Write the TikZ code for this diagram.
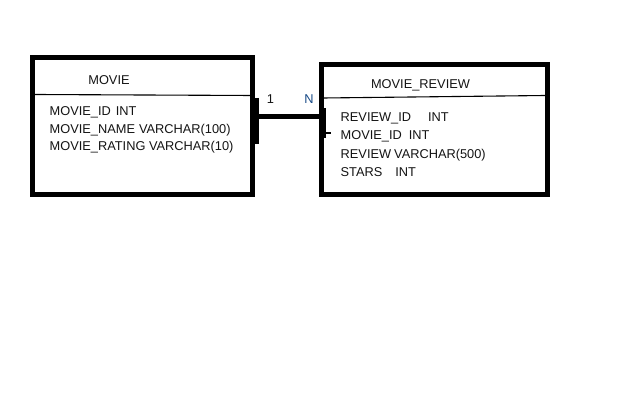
\documentclass[tikz,border=0pt]{standalone}
\usepackage{fontspec}
\setmainfont{Liberation Sans}
\usepackage{tikz}
\usetikzlibrary{positioning,calc}

\begin{document}
\begin{tikzpicture}[
  x=1pt, y=-1pt,
  lbl/.style={font=\fontsize{12.8}{15}\selectfont, inner sep=0pt, anchor=west, text=black!92},
  ttl/.style={font=\fontsize{12.8}{15}\selectfont, inner sep=0pt, text=black!92},
  tablebox/.style={rectangle, draw=black, line width=5pt, inner sep=0pt, outer sep=0pt},
  sepline/.style={draw=black, line width=1.1pt},
  relbar/.style={draw=black, line width=6pt},
  reledge/.style={draw=black, line width=5pt}
]
\fill[white] (0,0) rectangle (628,401);
\useasboundingbox (0,0) rectangle (628,401);

% tables
\node[tablebox, minimum width=220pt, minimum height=137pt] (movie) at (142.5,126) {};
\node[tablebox, minimum width=226.5pt, minimum height=130pt] (review) at (434.25,129.5) {};

\draw[sepline] (35,94.5) -- (254,95.5);
\draw[sepline] (323,98) -- (545,95.5);

\node[ttl] (movietitle) at (109,80) {MOVIE};
\node[ttl] (reviewtitle) at (420.5,85.5) {MOVIE\_REVIEW};

\node[lbl] (mid) at (49.5,112) {MOVIE\_ID\hspace{5pt}INT};
\node[lbl] (mname) at (49.5,130) {MOVIE\_NAME\hspace{4pt}VARCHAR(100)};
\node[lbl] (mrating) at (49.5,147.5) {MOVIE\_RATING VARCHAR(10)};

\node[lbl] (rid) at (340.5,118.5) {REVIEW\_ID\hspace{17pt}INT};
\node[lbl] (rmid) at (340.5,136.5) {MOVIE\_ID\hspace{7pt}INT};
\node[lbl] (rtext) at (340.5,155) {REVIEW\hspace{3pt}VARCHAR(500)};
\node[lbl] (rstars) at (340.5,172.5) {STARS\hspace{13pt}INT};

% relationship
\coordinate (onetop) at (255.5,98);
\coordinate (onebot) at (255.5,144);
\coordinate (manytop) at (322.5,108);
\coordinate (manybot) at (322.5,138);
\coordinate (oneend) at (255.5,116);
\coordinate (manyend) at (322.5,116);
\coordinate (tickend) at (331,133);
\coordinate (tickstart) at (324,133);

\draw[relbar] (onetop) -- (onebot);
\draw[relbar] (manytop) -- (manybot);
\draw[reledge] (oneend) -- (manyend);
\draw[sepline] (tickstart) -- (tickend);

\node[ttl] (onelbl) at (270.5,99) {1};
\node[ttl, text={rgb,255:red,25;green,75;blue,135}] (manylbl) at (309,99) {N};

\end{tikzpicture}
\end{document}
